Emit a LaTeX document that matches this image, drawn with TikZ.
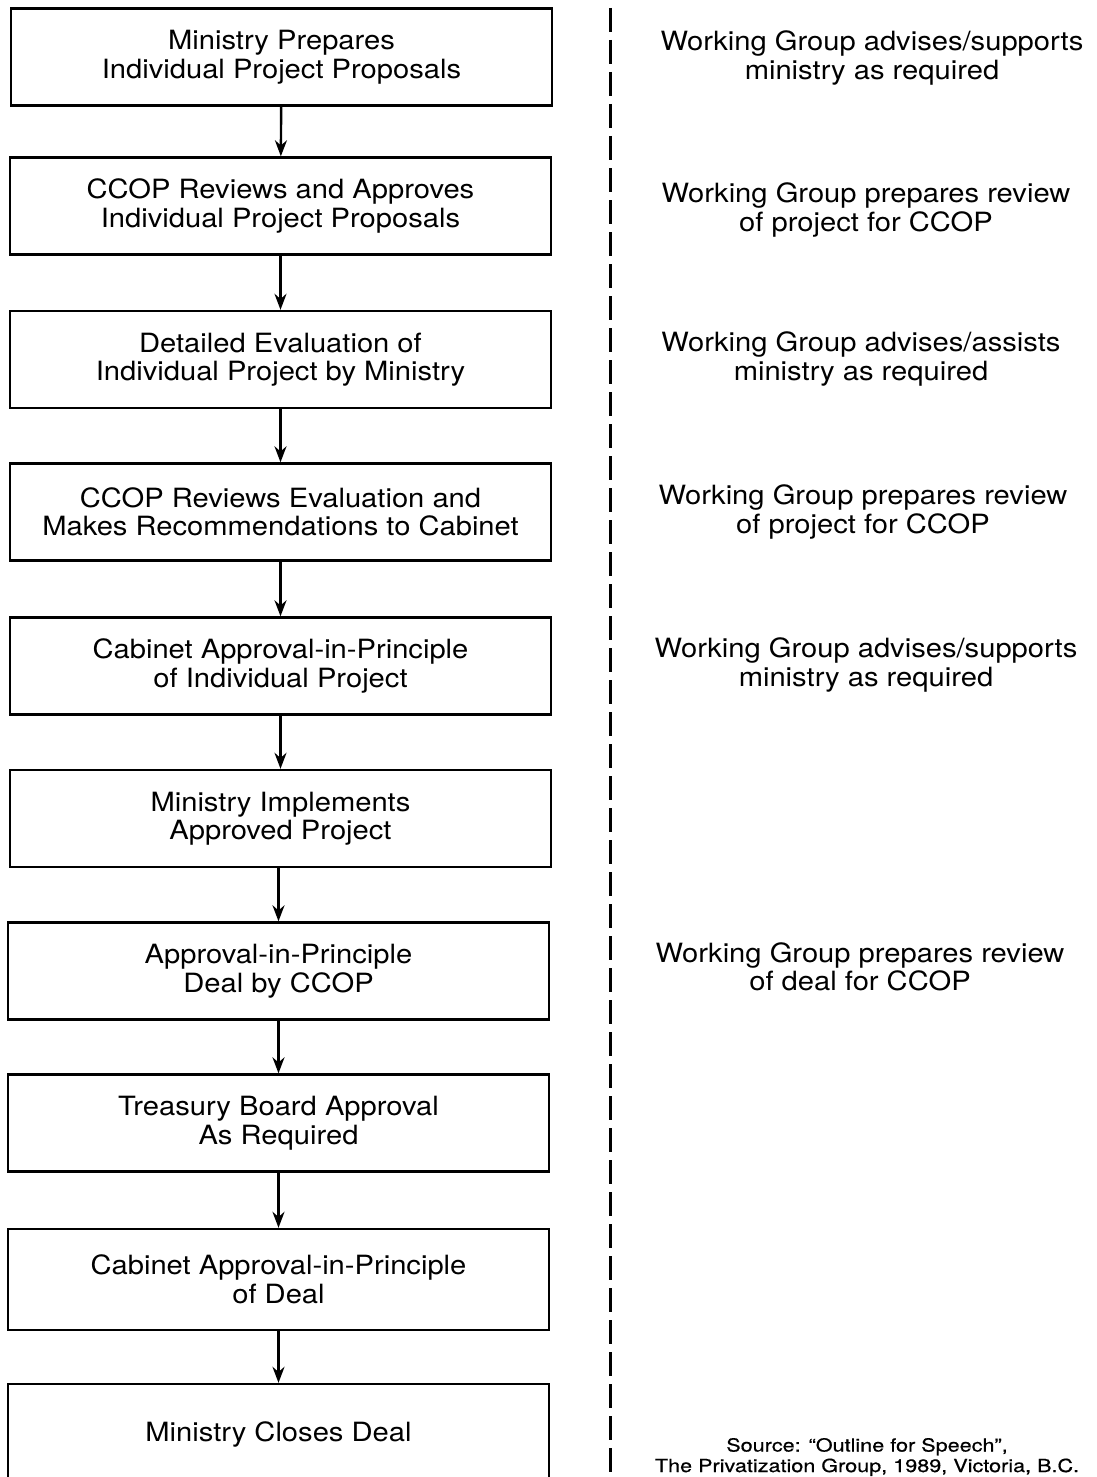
\documentclass[tikz,border=0pt]{standalone}
\usepackage{fontspec}
\setmainfont{TeX Gyre Heros}
\newfontfamily\wideheros[FakeStretch=1.1]{TeX Gyre Heros}
\newfontfamily\srcheros[FakeStretch=1.2,FakeBold=0.6]{TeX Gyre Heros}
\usetikzlibrary{arrows.meta}
\begin{document}
\begin{tikzpicture}[x=1pt,y=-1pt,
  stepbox/.style={draw, line width=2.4pt, minimum width=541pt, minimum height=97pt, align=center, inner sep=0pt, font=\wideheros\fontsize{26.5}{28.5}\selectfont},
  note/.style={align=center, inner sep=0pt, font=\wideheros\fontsize{26.5}{28.5}\selectfont},
  srcnote/.style={align=center, inner sep=0pt, font=\srcheros\fontsize{18}{20.5}\selectfont},
  flow/.style={line width=2.4pt, -{Stealth[length=16pt,width=12pt]}},
  divider/.style={line width=3pt, dash pattern=on 24pt off 8pt}]
\useasboundingbox (0,0) rectangle (1096,1477);
\clip (0,0) rectangle (1096,1477);
\fill[white] (0,0) rectangle (1096,1477);

\node[stepbox] (b1) at (281.5,57) {Ministry Prepares\\Individual Project Proposals};
\node[stepbox] (b2) at (280.5,206) {CCOP Reviews and Approves\\Individual Project Proposals};
\node[stepbox] (b3) at (280.5,359.5) {Detailed Evaluation of\\Individual Project by Ministry};
\node[stepbox] (b4) at (280.5,512) {CCOP Reviews Evaluation and\\Makes Recommendations to Cabinet};
\node[stepbox] (b5) at (280.5,666) {Cabinet Approval-in-Principle\\of Individual Project};
\node[stepbox] (b6) at (280.5,818.5) {Ministry Implements\\Approved Project};
\node[stepbox] (b7) at (278.5,971) {Approval-in-Principle\\Deal by CCOP};
\node[stepbox] (b8) at (278.5,1123) {Treasury Board Approval\\As Required};
\node[stepbox, minimum height=101pt] (b9) at (278.5,1279.5) {Cabinet Approval-in-Principle\\of Deal};
\node[stepbox, minimum height=100pt] (b10) at (278.5,1434) {Ministry Closes Deal};

\draw[flow] (b1) -- (b2);
\draw[flow] (b2) -- (b3);
\draw[flow] (b3) -- (b4);
\draw[flow] (b4) -- (b5);
\draw[flow] (b5) -- (b6);
\draw[flow] (b7.north |- b6.south) -- (b7.north);
\draw[flow] (b7) -- (b8);
\draw[flow] (b8) -- (b9);
\draw[flow] (b9) -- (b10);

\coordinate (dtop) at (610,8);
\coordinate (dbot) at (610,1477);
\draw[divider] (dtop) -- (dbot);

\node[note] (n1) at (872,58) {Working Group advises/supports\\ministry as required};
\node[note] (n2) at (866,210) {Working Group prepares review\\of project for CCOP};
\node[note] (n3) at (861,359) {Working Group advises/assists\\ministry as required};
\node[note] (n4) at (863,512) {Working Group prepares review\\of project for CCOP};
\node[note] (n5) at (866,665) {Working Group advises/supports\\ministry as required};
\node[note] (n7) at (860,967) {Working Group prepares review\\of deal for CCOP};
\node[srcnote] (src) at (867,1457) {Source: “Outline for Speech”,\\The Privatization Group, 1989, Victoria, B.C.};
\end{tikzpicture}
\end{document}
